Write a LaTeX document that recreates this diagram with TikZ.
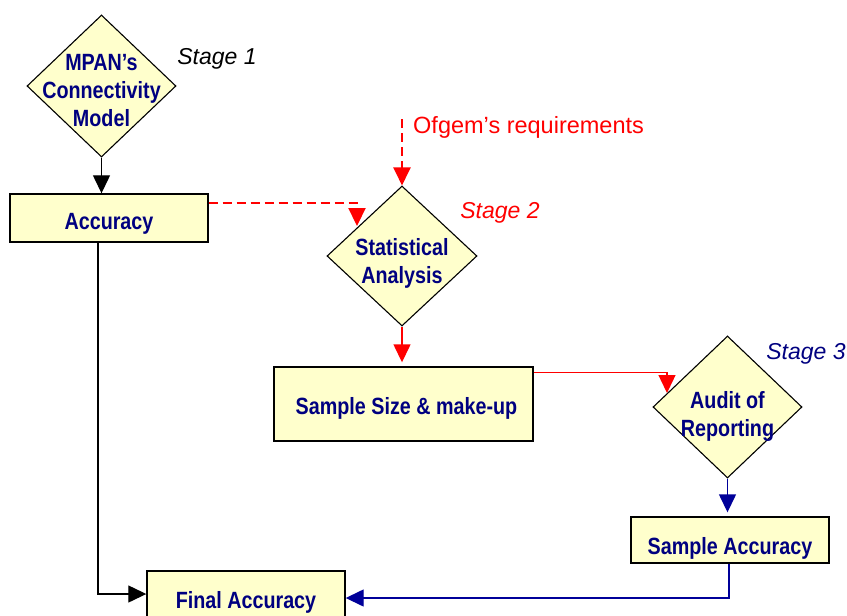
\documentclass[tikz,border=0pt]{standalone}
\usepackage{fontspec}
\setmainfont{Liberation Sans}
\newfontfamily\nodefont[FakeStretch=0.84]{Liberation Sans}
\usetikzlibrary{shapes.geometric,arrows.meta}
\definecolor{boxfill}{HTML}{FFFFCC}
\definecolor{navytext}{HTML}{000080}
\definecolor{blueline}{HTML}{000099}
\definecolor{redline}{HTML}{FF0000}
\tikzset{
  boxnode/.style={draw=black,line width=1.4pt,fill=boxfill,rectangle,inner sep=0pt},
  dia/.style={draw=black,line width=1.1pt,fill=boxfill,diamond,inner sep=0pt,minimum width=149pt,minimum height=142pt},
  btext/.style={text=navytext,font=\nodefont\bfseries\fontsize{23.5}{28}\selectfont,align=center,inner sep=0pt},
  stagetext/.style={font=\itshape\fontsize{23}{28}\selectfont,inner sep=0pt},
  tip/.style={-{Triangle[width=17pt,length=18pt]}},
  blk/.style={tip,draw=black,line width=1.3pt},
  redsolid/.style={tip,draw=redline,line width=1.4pt},
  reddash/.style={tip,draw=redline,line width=2.2pt,dash pattern=on 9pt off 5pt},
  blu/.style={tip,draw=blueline,line width=1.4pt}
}
\begin{document}
\begin{tikzpicture}[x=1pt,y=-1pt]
\useasboundingbox (0,0) rectangle (847,616);
\clip (0,0) rectangle (847,616);
% diamonds
\node[dia] (d1) at (101.5,86) {};
\node[btext] (d1t) at ([yshift=-5pt]d1.center) {MPAN’s\\Connectivity\\Model};
\node[dia,minimum width=150pt,minimum height=140pt] (d2) at (402,256) {};
\node[btext] (d2t) at ([yshift=-7pt]d2.center) {Statistical\\Analysis};
\node[dia] (d3) at (727.5,407) {};
\node[btext] (d3t) at ([yshift=-9pt]d3.center) {Audit of\\Reporting};
% boxes
\node[boxnode,minimum width=198pt,minimum height=48pt] (acc) at (109,218) {};
\node[btext] (acct) at ([yshift=-6pt]acc.center) {Accuracy};
\node[boxnode,minimum width=259pt,minimum height=74pt] (ss) at (403.5,404) {};
\node[btext] (sst) at ([xshift=3pt,yshift=-4pt]ss.center) {Sample Size \& make-up};
\node[boxnode,minimum width=198pt,minimum height=46pt] (sa) at (730,540) {};
\node[btext] (sat) at ([yshift=-8pt]sa.center) {Sample Accuracy};
\node[boxnode,minimum width=198pt,minimum height=50pt] (fin) at (246,596) {};
\node[btext] (fint) at ([yshift=-6pt]fin.center) {Final Accuracy};
% labels
\node[stagetext,text=black] (s1) at (217,59) {Stage 1};
\node[stagetext,text=redline] (s2) at (500,213) {Stage 2};
\node[stagetext,text=navytext] (s3) at (806,354) {Stage 3};
\node[text=redline,font=\fontsize{23.5}{28}\selectfont,inner sep=0pt,anchor=west] (ofg) at (413,127) {Ofgem’s requirements};
% coordinates
\coordinate (ofgs) at (402,119);
\coordinate (accb) at (98,242);
\coordinate (d2in) at (357,226);
\coordinate (d3in) at (667,393);
% connectors
\draw[blk] (d1.south) -- (d1.south |- acc.north);
\draw[blk] (accb) |- ([yshift=2pt]fin.west);
\draw[reddash] (ofgs) -- (d2.north);
\draw[reddash] ([yshift=-10pt]acc.north east) -| (d2in);
\draw[redsolid,shorten >=4pt] (d2.south) -- (d2.south |- ss.north);
\draw[redsolid] ([yshift=-6pt]ss.north east) -| (d3in);
\draw[blu,shorten >=4pt] (d3.south) -- (d3.south |- sa.north);
\draw[blu] ([xshift=-1pt]sa.south) |- ([yshift=-2pt]fin.east);
\end{tikzpicture}
\end{document}
